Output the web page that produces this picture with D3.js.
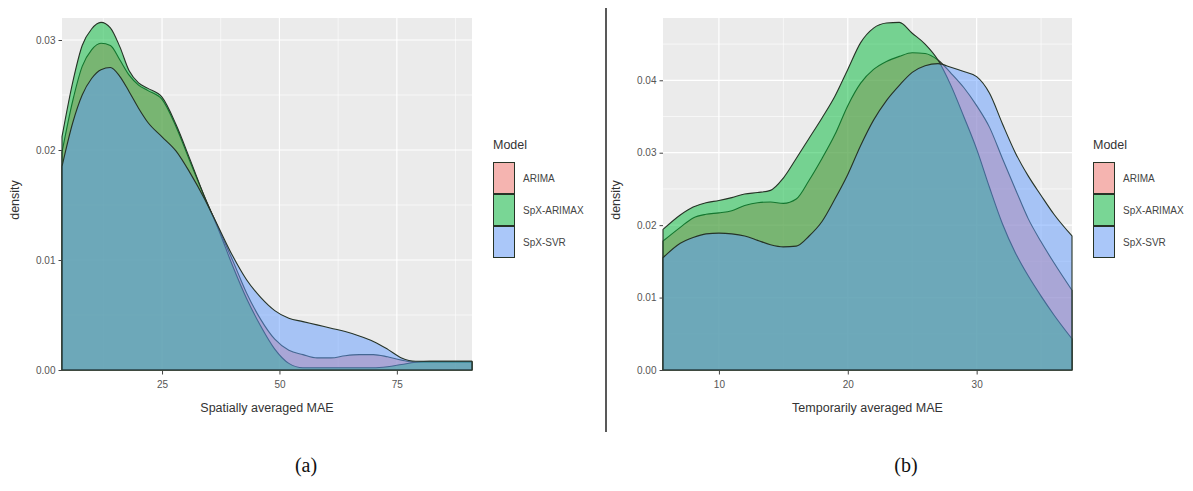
<!DOCTYPE html>
<html>
<head>
<meta charset="utf-8">
<script src="https://cdn.jsdelivr.net/npm/d3@7"></script>
<style>
  body { margin: 0; background: #fff; }
  svg { display: block; font-family: "Liberation Sans", Arial, sans-serif; }
</style>
</head>
<body>
<svg id="chart" width="1193" height="491"></svg>
<script>
// models, legend order and ggplot default hues
var models = ["ARIMA", "SpX-ARIMAX", "SpX-SVR"];
var modelColours = ["#F8766D", "#00BA38", "#619CFF"];

// (a) spatially averaged MAE - density estimates
var spatialX      = [3.7, 6, 8, 10, 12, 14, 16, 18, 20, 22, 25, 28, 31, 34, 37, 40, 43, 46, 49, 52, 55, 58, 61, 64, 67, 70, 73, 76, 79, 82, 85, 88, 91];
var spatialArima  = [0.0198, 0.0245, 0.0276, 0.0291, 0.0297, 0.0295, 0.0282, 0.0268, 0.0259, 0.0254, 0.0246, 0.0221, 0.0189, 0.0158, 0.0129, 0.0100, 0.0070, 0.0046, 0.0028, 0.0018, 0.0014, 0.0011, 0.0011, 0.0013, 0.0014, 0.0014, 0.0012, 0.0009, 0.0007, 0.0007, 0.0007, 0.0007, 0.0007];
var spatialArimax = [0.0212, 0.0262, 0.0295, 0.0310, 0.0316, 0.0311, 0.0294, 0.0272, 0.0261, 0.0256, 0.0248, 0.0223, 0.0191, 0.0158, 0.0128, 0.0095, 0.0065, 0.0040, 0.0019, 0.0006, 0.0002, 0.0002, 0.0002, 0.0002, 0.0002, 0.0002, 0.0003, 0.0005, 0.0007, 0.0008, 0.0008, 0.0008, 0.0008];
var spatialSvr    = [0.0185, 0.0225, 0.0250, 0.0265, 0.0273, 0.0275, 0.0267, 0.0253, 0.0238, 0.0225, 0.0212, 0.0199, 0.0179, 0.0156, 0.0130, 0.0104, 0.0082, 0.0066, 0.0054, 0.0047, 0.0044, 0.0041, 0.0038, 0.0035, 0.0031, 0.0026, 0.0019, 0.0011, 0.0008, 0.0008, 0.0008, 0.0008, 0.0008];
var spatialXTicks = [25, 50, 75];
var spatialYTicks = [0, 0.01, 0.02, 0.03];

// (b) temporarily averaged MAE
var temporalX      = [5.66, 7, 8, 9, 10, 11, 12, 13, 14, 15, 16, 17, 18, 19, 20, 21, 22, 23, 24, 25, 26, 27, 28, 29, 30, 31, 32, 33, 34, 35, 36, 37.4];
var temporalArima  = [0.0178, 0.0197, 0.0210, 0.0215, 0.0217, 0.0220, 0.0227, 0.0231, 0.0232, 0.0230, 0.0236, 0.0262, 0.0292, 0.0325, 0.0365, 0.0396, 0.0415, 0.0426, 0.0433, 0.0438, 0.0437, 0.0428, 0.0410, 0.0390, 0.0365, 0.0335, 0.0292, 0.0250, 0.0209, 0.0177, 0.0148, 0.0110];
var temporalArimax = [0.0194, 0.0214, 0.0225, 0.0231, 0.0234, 0.0238, 0.0243, 0.0245, 0.0248, 0.0265, 0.0292, 0.0320, 0.0348, 0.0378, 0.0415, 0.0452, 0.0472, 0.0479, 0.0480, 0.0465, 0.0450, 0.0428, 0.0393, 0.0350, 0.0305, 0.0252, 0.0202, 0.0162, 0.0130, 0.0102, 0.0076, 0.0043];
var temporalSvr    = [0.0155, 0.0175, 0.0183, 0.0188, 0.0189, 0.0188, 0.0185, 0.0179, 0.0173, 0.0170, 0.0171, 0.0185, 0.0205, 0.0236, 0.0270, 0.0310, 0.0345, 0.0372, 0.0393, 0.0411, 0.0420, 0.0423, 0.0418, 0.0412, 0.0405, 0.0382, 0.0340, 0.0300, 0.0268, 0.0241, 0.0215, 0.0185];
var temporalXTicks = [10, 20, 30];
var temporalYTicks = [0, 0.01, 0.02, 0.03, 0.04];

var svg = d3.select("#chart");
svg.append("rect").attr("width", 1193).attr("height", 491).attr("fill", "#fff");

function drawPanel(p) {
  var x = d3.scaleLinear().domain(p.xDomain).range([p.left, p.right]);
  var y = d3.scaleLinear().domain([0, p.yMax]).range([p.bottom, p.top]);
  var g = svg.append("g");

  g.append("rect")
   .attr("x", p.left).attr("y", p.top)
   .attr("width", p.right - p.left).attr("height", p.bottom - p.top + 1)
   .attr("fill", "#EBEBEB");

  // minor grid
  var step = p.xTicks[1] - p.xTicks[0];
  var xMinor = [];
  for (var i = 0; i < p.xTicks.length + 1; i++) {
    xMinor.push(p.xTicks[0] - step / 2 + i * step);
  }
  var yStep = p.yTicks[1] - p.yTicks[0];
  var yMinor = p.yTicks.map(d => d + yStep / 2);

  g.selectAll(".xminor").data(xMinor.filter(d => d > p.xDomain[0] && d < p.xDomain[1]))
   .enter().append("line")
   .attr("x1", d => x(d)).attr("x2", d => x(d))
   .attr("y1", p.top).attr("y2", p.bottom)
   .attr("stroke", "#fff").attr("stroke-width", 0.6);
  g.selectAll(".yminor").data(yMinor.filter(d => d < p.yMax))
   .enter().append("line")
   .attr("x1", p.left).attr("x2", p.right)
   .attr("y1", d => y(d)).attr("y2", d => y(d))
   .attr("stroke", "#fff").attr("stroke-width", 0.6);

  // major grid
  g.selectAll(".xmajor").data(p.xTicks)
   .enter().append("line")
   .attr("x1", d => x(d)).attr("x2", d => x(d))
   .attr("y1", p.top).attr("y2", p.bottom)
   .attr("stroke", "#fff").attr("stroke-width", 1.2);
  g.selectAll(".ymajor").data(p.yTicks)
   .enter().append("line")
   .attr("x1", p.left).attr("x2", p.right)
   .attr("y1", d => y(d)).attr("y2", d => y(d))
   .attr("stroke", "#fff").attr("stroke-width", 1.2);

  // density areas, in legend order so later ones sit on top
  var area = d3.area()
    .x(d => x(d[0]))
    .y0(y(0))
    .y1(d => y(d[1]))
    .curve(d3.curveMonotoneX);

  p.series.forEach(function (vals, k) {
    var pts = p.xs.map((v, i) => [v, vals[i]]);
    g.append("path")
     .attr("d", area(pts) + "Z")
     .attr("fill", modelColours[k])
     .attr("fill-opacity", 0.5)
     .attr("stroke", "#263326")
     .attr("stroke-width", 1.1)
     .attr("stroke-linejoin", "round");
  });

  // axes
  var xAxis = d3.axisBottom(x).tickValues(p.xTicks).tickSize(3.5).tickPadding(6)
                .tickFormat(d3.format("d"));
  var gx = g.append("g").attr("transform", `translate(0,${p.bottom + 1})`).call(xAxis);
  gx.select(".domain").remove();

  var yAxis = d3.axisLeft(y).tickValues(p.yTicks).tickSize(3.5).tickPadding(3)
                .tickFormat(d3.format(".2f"));
  var gy = g.append("g").attr("transform", `translate(${p.left},0)`).call(yAxis);
  gy.select(".domain").remove();

  [gx, gy].forEach(function (a) {
    a.selectAll("line").attr("stroke", "#444");
    a.selectAll("text").attr("fill", "#555").style("font-size", "10px")
     .style("font-family", "Liberation Sans, Arial, sans-serif");
  });

  g.append("text")
   .attr("x", (p.left + p.right) / 2).attr("y", 412)
   .attr("text-anchor", "middle")
   .attr("fill", "#333").style("font-size", "12.5px")
   .text(p.xTitle);

  g.append("text")
   .attr("transform", `translate(${p.left - 43},${(p.top + p.bottom) / 2 + 6}) rotate(-90)`)
   .attr("text-anchor", "middle")
   .attr("fill", "#333").style("font-size", "12.5px")
   .text("density");

  // legend
  var lg = g.append("g").attr("transform", `translate(${p.legendX},0)`);
  lg.append("text").attr("x", 0).attr("y", 149)
    .attr("fill", "#333").style("font-size", "12.5px").text("Model");
  models.forEach(function (m, k) {
    var ky = 162 + k * 32;
    lg.append("rect").attr("x", 0).attr("y", ky).attr("width", 22).attr("height", 32)
      .attr("fill", "#F2F2F2");
    lg.append("rect").attr("x", 0.5).attr("y", ky + 0.5).attr("width", 21).attr("height", 31)
      .attr("fill", modelColours[k]).attr("fill-opacity", 0.5)
      .attr("stroke", "#263326").attr("stroke-width", 1);
    lg.append("text").attr("x", 30).attr("y", ky + 19.5)
      .attr("fill", "#444").style("font-size", "10px").text(m);
  });

  svg.append("text")
     .attr("x", p.captionX).attr("y", 472)
     .attr("text-anchor", "middle")
     .attr("fill", "#111")
     .style("font-family", "Liberation Serif, Times New Roman, serif")
     .style("font-size", "20px")
     .text(p.caption);
}

drawPanel({
  left: 62, right: 472, top: 18, bottom: 370,
  xDomain: [3.7, 91], yMax: 0.032,
  xs: spatialX, series: [spatialArima, spatialArimax, spatialSvr],
  xTicks: spatialXTicks, yTicks: spatialYTicks,
  xTitle: "Spatially averaged MAE",
  legendX: 493, caption: "(a)", captionX: 306
});

drawPanel({
  left: 663, right: 1072, top: 18, bottom: 370,
  xDomain: [5.66, 37.4], yMax: 0.0486,
  xs: temporalX, series: [temporalArima, temporalArimax, temporalSvr],
  xTicks: temporalXTicks, yTicks: temporalYTicks,
  xTitle: "Temporarily averaged MAE",
  legendX: 1093, caption: "(b)", captionX: 906
});

// divider between the two panels
svg.append("line")
   .attr("x1", 606).attr("x2", 606).attr("y1", 8).attr("y2", 432)
   .attr("stroke", "#222").attr("stroke-width", 1.5);
</script>
</body>
</html>
